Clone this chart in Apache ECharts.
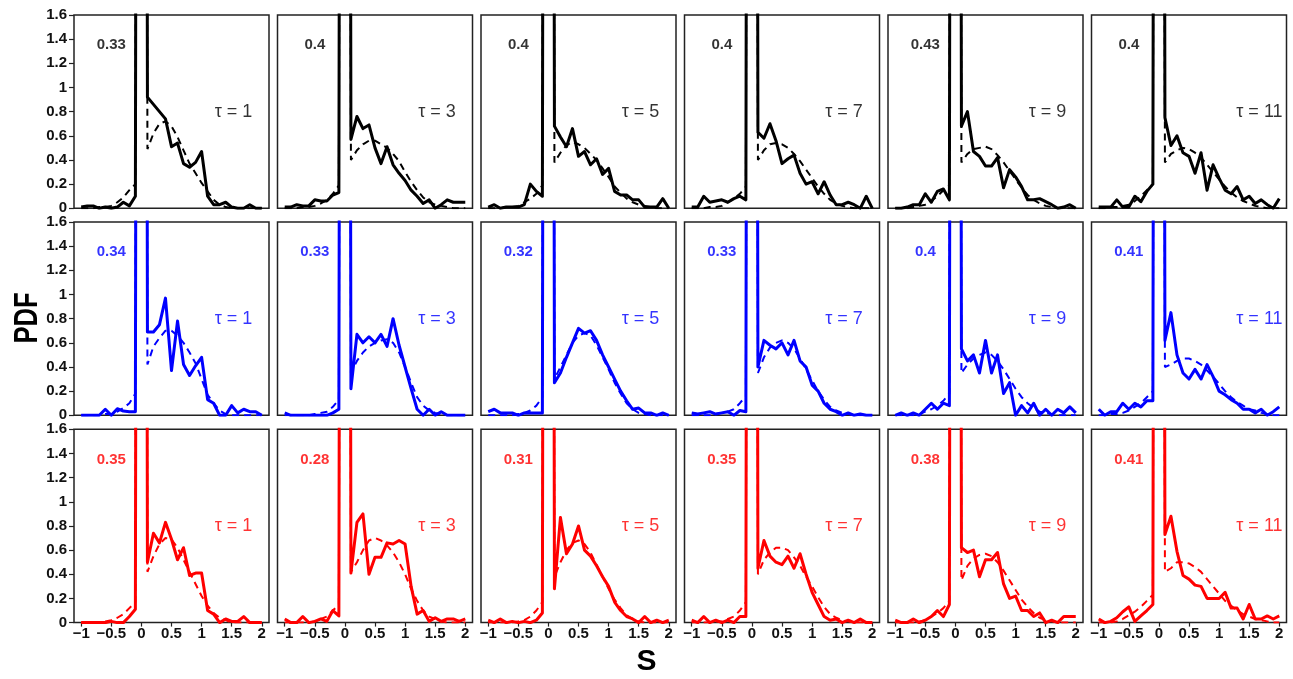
<!DOCTYPE html>
<html>
<head>
<meta charset="utf-8">
<script src="https://cdn.jsdelivr.net/npm/echarts@6/dist/echarts.min.js"></script>
<style>
  html, body { margin: 0; padding: 0; background: #fff; }
  #chart { width: 1293px; height: 679px; }
</style>
</head>
<body>
<div id="chart"></div>
<script>
// S grid shared by every panel (step 0.1)
const S = [-1, -0.9, -0.8, -0.7, -0.6, -0.5, -0.4, -0.3, -0.2, -0.1, 0,
  0.1, 0.2, 0.3, 0.4, 0.5, 0.6, 0.7, 0.8, 0.9, 1, 1.1, 1.2, 1.3, 1.4, 1.5, 1.6, 1.7, 1.8, 1.9, 2];
const xTicks = [-1, -0.5, 0, 0.5, 1, 1.5, 2];
const taus = [1, 3, 5, 7, 9, 11];

// top row (black)
const emp_k1 = [0.01,0.02,0.02,0,0.01,0,0.01,0.05,0.02,0.1,30,0.92,0.86,0.8,0.74,0.51,0.54,0.37,0.34,0.38,0.47,0.1,0.03,0.03,0.05,0.01,0,0,0.03,0,0];
const fit_k1 = [0,0,0,0.01,0.01,0.02,0.05,0.09,0.15,0.2,30,0.49,0.62,0.7,0.72,0.68,0.59,0.48,0.37,0.29,0.21,0.14,0.07,0.03,0.01,0,0,0,0,0,0];
const emp_k3 = [0.01,0.01,0.03,0.02,0.02,0.07,0.06,0.06,0.11,0.13,30,0.57,0.76,0.66,0.69,0.5,0.37,0.51,0.36,0.29,0.23,0.15,0.1,0.04,0.07,0,0.03,0.07,0.05,0.05,0.05];
const fit_k3 = [0,0,0,0.01,0.01,0.02,0.04,0.07,0.12,0.19,30,0.4,0.48,0.53,0.56,0.56,0.53,0.5,0.45,0.39,0.3,0.22,0.15,0.09,0.05,0.03,0.02,0.01,0,0,0];
const emp_k5 = [0.01,0.03,0,0.01,0.01,0.01,0.03,0.2,0.14,0.1,30,0.68,0.59,0.51,0.66,0.43,0.47,0.36,0.41,0.28,0.33,0.14,0.11,0.11,0.07,0.07,0.01,0.01,0.01,0.08,0];
const fit_k5 = [0,0,0,0.01,0.01,0.02,0.05,0.08,0.12,0.19,30,0.38,0.46,0.52,0.55,0.53,0.5,0.45,0.4,0.33,0.26,0.18,0.13,0.08,0.05,0.03,0.02,0.01,0,0,0];
const emp_k7 = [0.01,0.01,0.1,0.05,0.06,0.07,0.05,0.08,0.1,0.07,30,0.63,0.58,0.7,0.56,0.37,0.41,0.44,0.29,0.2,0.22,0.12,0.22,0.11,0.03,0.03,0.05,0.03,0,0.1,0];
const fit_k7 = [0,0,0,0.01,0.01,0.02,0.05,0.08,0.12,0.18,30,0.4,0.48,0.53,0.54,0.53,0.5,0.45,0.39,0.32,0.25,0.18,0.12,0.07,0.04,0.02,0.01,0,0,0,0];
const emp_k9 = [0,0,0.01,0.03,0.03,0.12,0.05,0.14,0.16,0.07,30,0.68,0.8,0.47,0.43,0.35,0.35,0.42,0.17,0.32,0.26,0.18,0.07,0.07,0.08,0.055,0.03,0,0.01,0.03,0];
const fit_k9 = [0,0,0,0.01,0.02,0.03,0.06,0.1,0.15,0.19,30,0.38,0.45,0.49,0.5,0.51,0.49,0.44,0.38,0.31,0.24,0.17,0.11,0.07,0.04,0.02,0.01,0,0,0,0];
const emp_k11 = [0.01,0.01,0.01,0.07,0.01,0.01,0.1,0.055,0.14,0.2,30,0.75,0.52,0.6,0.46,0.43,0.29,0.46,0.15,0.36,0.25,0.15,0.12,0.18,0.07,0.1,0.04,0.07,0.03,0,0.08];
const fit_k11 = [0,0,0.01,0.01,0.02,0.03,0.06,0.1,0.15,0.2,30,0.38,0.45,0.48,0.5,0.49,0.46,0.42,0.36,0.3,0.24,0.18,0.13,0.09,0.06,0.04,0.02,0.01,0,0,0];

// middle row (blue)
const emp_b1 = [0,0,0,0,0.05,0,0.055,0.035,0.03,0.03,30,0.69,0.69,0.75,0.97,0.37,0.78,0.42,0.33,0.41,0.48,0.13,0.1,0,0,0.08,0.02,0.05,0.03,0.03,0];
const fit_b1 = [0,0,0,0,0.01,0.01,0.03,0.06,0.1,0.18,30,0.42,0.57,0.64,0.7,0.7,0.66,0.6,0.52,0.43,0.3,0.17,0.1,0.04,0.01,0,0,0,0,0,0];
const emp_b3 = [0.02,0,0,0,0,0,0,0,0.02,0.05,30,0.22,0.67,0.6,0.65,0.6,0.67,0.57,0.8,0.58,0.4,0.22,0.05,0,0.05,0,0.03,0,0,0,0];
const fit_b3 = [0,0,0,0,0,0.01,0.02,0.03,0.07,0.13,30,0.35,0.45,0.52,0.57,0.6,0.62,0.63,0.6,0.52,0.4,0.27,0.15,0.08,0.04,0.02,0.01,0,0,0,0];
const emp_b5 = [0.03,0.05,0.02,0.02,0.02,0,0.02,0.02,0.02,0.02,30,0.27,0.35,0.48,0.6,0.72,0.68,0.7,0.62,0.5,0.4,0.3,0.2,0.12,0.05,0.06,0.02,0.02,0,0.02,0];
const fit_b5 = [0,0,0,0,0,0.01,0.02,0.04,0.08,0.15,30,0.3,0.4,0.5,0.6,0.66,0.68,0.66,0.58,0.48,0.38,0.27,0.18,0.1,0.05,0.02,0.01,0,0,0,0];
const emp_b7 = [0.02,0.01,0.02,0.03,0.01,0.02,0.03,0,0.04,0.03,30,0.4,0.62,0.58,0.55,0.6,0.5,0.62,0.45,0.4,0.25,0.2,0.1,0.05,0.03,0,0.02,0,0.01,0,0];
const fit_b7 = [0,0,0,0,0.01,0.02,0.03,0.05,0.1,0.16,30,0.35,0.48,0.56,0.6,0.62,0.6,0.55,0.47,0.38,0.29,0.2,0.13,0.07,0.04,0.02,0.01,0,0,0,0];
const emp_b9 = [0,0.02,0,0.02,0,0.05,0.1,0.05,0.1,0.08,30,0.55,0.45,0.5,0.35,0.62,0.35,0.5,0.18,0.27,0,0.08,0.02,0.1,0,0.05,0,0.05,0.02,0.07,0.02];
const fit_b9 = [0,0,0,0,0.01,0.03,0.05,0.08,0.12,0.18,30,0.35,0.42,0.47,0.5,0.52,0.5,0.45,0.38,0.3,0.22,0.15,0.1,0.06,0.03,0.02,0.01,0,0,0,0];
const emp_b11 = [0.05,0,0.03,0.03,0.1,0.05,0.1,0.07,0.12,0.12,30,0.62,0.85,0.5,0.35,0.3,0.38,0.3,0.42,0.32,0.2,0.17,0.13,0.1,0.05,0.05,0.02,0.05,0,0.03,0.07];
const fit_b11 = [0,0,0.01,0.01,0.02,0.04,0.07,0.1,0.15,0.2,30,0.4,0.42,0.45,0.47,0.47,0.45,0.42,0.37,0.32,0.26,0.2,0.15,0.11,0.08,0.05,0.04,0.02,0.01,0,0];

// bottom row (red)
const emp_r1 = [0,0,0,0,0,0.01,0,0,0.05,0.11,30,0.5,0.74,0.66,0.83,0.69,0.52,0.62,0.39,0.41,0.41,0.1,0.07,0,0.03,0.01,0.01,0.05,0,0,0];
const fit_r1 = [0,0,0,0,0.01,0.02,0.04,0.07,0.12,0.17,30,0.42,0.55,0.65,0.7,0.69,0.62,0.52,0.42,0.32,0.22,0.14,0.08,0.04,0.02,0,0,0,0,0,0];
const emp_r3 = [0.03,0,0,0.05,0,0.01,0.03,0.01,0.1,0.055,30,0.41,0.83,0.9,0.4,0.54,0.54,0.66,0.65,0.68,0.65,0.3,0.07,0.1,0.01,0.04,0.01,0.03,0.03,0.01,0.03];
const fit_r3 = [0,0,0,0,0,0.01,0.03,0.05,0.1,0.15,30,0.42,0.5,0.6,0.68,0.7,0.68,0.64,0.58,0.5,0.4,0.28,0.18,0.1,0.05,0.03,0.01,0,0,0,0];
const emp_r5 = [0.02,0,0.03,0,0.01,0,0.01,0,0.02,0.08,30,0.28,0.87,0.57,0.65,0.8,0.6,0.55,0.47,0.38,0.3,0.17,0.1,0.05,0.03,0,0.05,0,0.02,0,0.02];
const fit_r5 = [0,0,0,0,0,0.01,0.02,0.05,0.1,0.17,30,0.38,0.5,0.6,0.66,0.68,0.65,0.58,0.48,0.38,0.28,0.19,0.12,0.06,0.03,0.01,0,0,0,0,0];
const emp_r7 = [0.02,0,0.05,0,0.02,0,0.02,0,0.05,0.05,30,0.45,0.68,0.55,0.5,0.48,0.55,0.45,0.57,0.4,0.25,0.15,0.05,0.02,0.03,0,0.02,0,0.03,0,0];
const fit_r7 = [0,0,0,0,0.01,0.01,0.03,0.05,0.1,0.17,30,0.4,0.52,0.58,0.62,0.62,0.6,0.54,0.47,0.38,0.3,0.21,0.13,0.07,0.04,0.02,0.01,0,0,0,0];
const emp_r9 = [0.02,0,0,0.03,0,0.02,0.05,0.1,0.05,0.15,30,0.62,0.58,0.6,0.38,0.52,0.52,0.58,0.32,0.2,0.22,0.1,0.1,0.05,0.08,0,0.02,0,0.05,0.05,0.05];
const fit_r9 = [0,0,0,0,0.01,0.02,0.05,0.08,0.12,0.18,30,0.35,0.47,0.53,0.56,0.57,0.55,0.5,0.43,0.35,0.27,0.19,0.13,0.08,0.04,0.02,0.01,0,0,0,0];
const emp_r11 = [0.03,0,0.01,0.04,0.09,0.13,0.01,0.055,0.1,0.15,30,0.73,0.88,0.59,0.39,0.36,0.31,0.3,0.2,0.2,0.2,0.25,0.12,0.12,0.03,0.15,0.03,0.03,0.055,0.03,0.055];
const fit_r11 = [0,0,0,0.01,0.03,0.06,0.09,0.13,0.18,0.23,30,0.42,0.45,0.5,0.5,0.49,0.46,0.42,0.36,0.3,0.24,0.18,0.14,0.1,0.07,0.05,0.03,0.02,0.01,0,0];

// share labels printed in each panel
const share_k = ['0.33', '0.4', '0.4', '0.4', '0.43', '0.4'];
const share_b = ['0.34', '0.33', '0.32', '0.33', '0.4', '0.41'];
const share_r = ['0.35', '0.28', '0.31', '0.35', '0.38', '0.41'];

const rows = [
  { color: '#000000', emp: [emp_k1, emp_k3, emp_k5, emp_k7, emp_k9, emp_k11], fit: [fit_k1, fit_k3, fit_k5, fit_k7, fit_k9, fit_k11], share: share_k },
  { color: '#0000ff', emp: [emp_b1, emp_b3, emp_b5, emp_b7, emp_b9, emp_b11], fit: [fit_b1, fit_b3, fit_b5, fit_b7, fit_b9, fit_b11], share: share_b },
  { color: '#ff0000', emp: [emp_r1, emp_r3, emp_r5, emp_r7, emp_r9, emp_r11], fit: [fit_r1, fit_r3, fit_r5, fit_r7, fit_r9, fit_r11], share: share_r }
];

const FONT = '"Liberation Sans", Arial, Helvetica, sans-serif';
const rowTop = [15, 222, 429.3];
const minus = v => String(v).replace('-', '\u2212');

const grid = [], xAxis = [], yAxis = [], series = [];
rows.forEach((row, r) => {
  taus.forEach((tau, c) => {
    const i = r * 6 + c;
    grid.push({
      left: 74 + 203.5 * c, top: rowTop[r], width: 195, height: 193.3,
      show: true, borderColor: '#222', borderWidth: 1.5, backgroundColor: '#fff'
    });
    xAxis.push({
      gridIndex: i, type: 'value', min: -1.12, max: 2.12,
      splitLine: { show: false },
      axisLine: { show: false, onZero: false },
      axisTick: { show: r === 2, customValues: xTicks, length: 4, lineStyle: { color: '#222', width: 1.2 } },
      axisLabel: { show: r === 2, customValues: xTicks, formatter: minus, margin: 4,
        fontFamily: FONT, fontWeight: 'bold', fontSize: 15, color: '#111' }
    });
    yAxis.push({
      gridIndex: i, type: 'value', min: 0, max: 1.6, interval: 0.2,
      splitLine: { show: false },
      axisLine: { show: false, onZero: false },
      axisTick: { show: c === 0, length: 5, lineStyle: { color: '#222', width: 1.2 } },
      axisLabel: { show: c === 0, margin: 7, formatter: v => String(+v.toFixed(1)),
        fontFamily: FONT, fontWeight: 'bold', fontSize: 15, color: '#111' }
    });
    series.push({
      type: 'line', xAxisIndex: i, yAxisIndex: i, symbol: 'none', clip: true, silent: true,
      data: S.map((x, j) => [x, row.emp[c][j]]),
      lineStyle: { color: row.color, width: 3, join: 'round' }
    });
    series.push({
      type: 'line', xAxisIndex: i, yAxisIndex: i, symbol: 'none', clip: true, silent: true,
      data: S.map((x, j) => [x, row.fit[c][j]]),
      lineStyle: { color: row.color, width: 2, type: [7, 5] }
    });
    series.push({
      type: 'scatter', xAxisIndex: i, yAxisIndex: i, symbolSize: 0, silent: true,
      data: [
        { value: [-0.5, 1.35], label: { formatter: row.share[c], fontWeight: 'bold', fontSize: 15 } },
        { value: [tau > 9 ? 1.67 : 1.53, 0.8], label: { formatter: '\u03c4 = ' + tau, fontSize: 18 } }
      ],
      label: { show: true, position: 'inside', color: row.color, fontFamily: FONT }
    });
  });
});

const chart = echarts.init(document.getElementById('chart'));
chart.setOption({
  animation: false,
  backgroundColor: '#fff',
  grid, xAxis, yAxis, series,
  graphic: [
    { type: 'text', x: 28, y: 318, rotation: Math.PI / 2, scaleX: 0.75,
      style: { text: 'PDF', font: 'bold 34px ' + FONT, fill: '#000', textAlign: 'center', textVerticalAlign: 'middle' } },
    { type: 'text', x: 646.5, y: 662,
      style: { text: 'S', font: 'bold 30px ' + FONT, fill: '#000', textAlign: 'center', textVerticalAlign: 'middle' } }
  ]
});
</script>
</body>
</html>
